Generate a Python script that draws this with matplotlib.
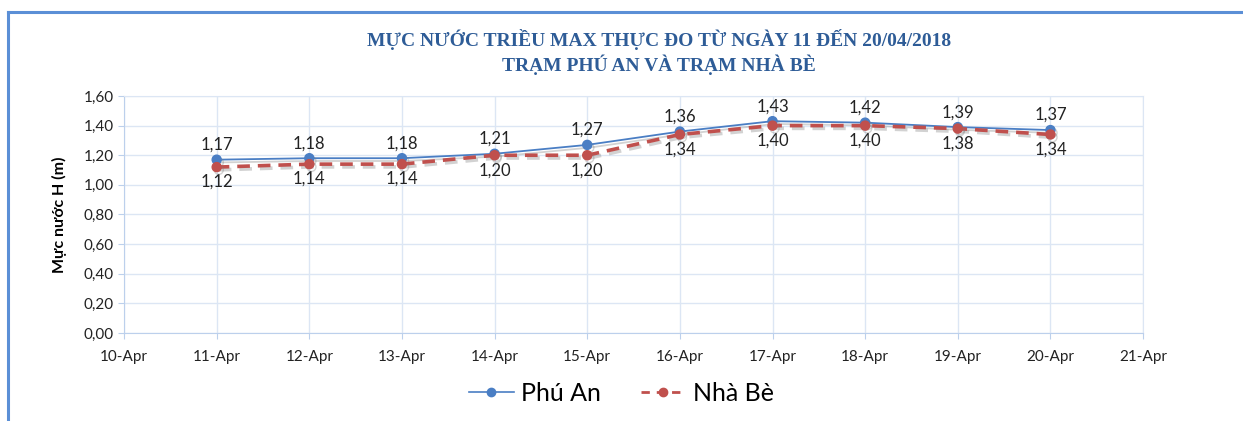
import matplotlib
matplotlib.use("Agg")
import matplotlib.pyplot as plt
import matplotlib.dates as mdates
from matplotlib.lines import Line2D
import matplotlib.patheffects as pe
import datetime as dt

dates = ["2018-04-11", "2018-04-12", "2018-04-13", "2018-04-14", "2018-04-15",
         "2018-04-16", "2018-04-17", "2018-04-18", "2018-04-19", "2018-04-20"]
phu_an = [1.17, 1.18, 1.18, 1.21, 1.27, 1.36, 1.43, 1.42, 1.39, 1.37]
nha_be = [1.12, 1.14, 1.14, 1.20, 1.20, 1.34, 1.40, 1.40, 1.38, 1.34]
series_names = ["Phú An", "Nhà Bè"]
title = "MỰC NƯỚC TRIỀU MAX THỰC ĐO TỪ NGÀY 11 ĐẾN 20/04/2018\nTRẠM PHÚ AN VÀ TRẠM NHÀ BÈ"
ylabel = "Mực nước H (m)"

x = [dt.datetime.strptime(d, "%Y-%m-%d") for d in dates]

blue = "#4A7EC4"
red = "#C0504D"
grid_c = "#DCE6F4"
font = ["Lato", "DejaVu Sans"]

fig = plt.figure(figsize=(12.43, 4.21), dpi=100)
ax = fig.add_axes([0.0998, 0.209, 0.8198, 0.563])

shadow = [pe.SimpleLineShadow(offset=(1.5, -2), shadow_color="gray", alpha=0.35), pe.Normal()]
ax.plot(x, phu_an, color=blue, lw=1.3, marker="o", ms=6.5, mfc=blue, mec=blue,
        path_effects=shadow, zorder=3)
ax.plot(x, nha_be, color=red, lw=2.6, ls=(0, (3.5, 2.2)), marker="o", ms=6.5, mfc=red, mec=red,
        path_effects=shadow, zorder=4)

def fmt(v):
    return f"{v:.2f}".replace(".", ",")

for xi, a, b in zip(x, phu_an, nha_be):
    ax.annotate(fmt(a), (xi, a), xytext=(0, 5), textcoords="offset points",
                ha="center", va="bottom", fontsize=12, family=font, color="#222222")
    ax.annotate(fmt(b), (xi, b), xytext=(0, -5), textcoords="offset points",
                ha="center", va="top", fontsize=12, family=font, color="#222222")

ax.set_xlim(dt.datetime(2018, 4, 10), dt.datetime(2018, 4, 21))
ax.set_ylim(0, 1.6)
ax.xaxis.set_major_locator(mdates.DayLocator())
ax.xaxis.set_major_formatter(mdates.DateFormatter("%d-%b"))
ax.set_yticks([i * 0.2 for i in range(9)])
ax.yaxis.set_major_formatter(matplotlib.ticker.FuncFormatter(lambda v, p: fmt(v)))
ax.grid(True, color=grid_c, lw=1)
for s in ax.spines.values():
    s.set_color(grid_c)
ax.spines["left"].set_color("#BCD0EC")
ax.spines["bottom"].set_color("#BCD0EC")
ax.tick_params(axis="both", colors="#BCD0EC", labelcolor="#222222", labelsize=11, length=4)
ax.tick_params(axis="x", pad=8)
for lab in ax.get_xticklabels() + ax.get_yticklabels():
    lab.set_family(font)
ax.set_ylabel(ylabel, fontsize=11.5, fontweight="bold", family=font, labelpad=12)

fig.text(0.530, 0.877, title, ha="center", va="center", fontsize=14, fontweight="bold",
         family=["Liberation Serif", "DejaVu Serif"], color="#2E5C97", linespacing=1.3)

handles = [Line2D([], [], color=blue, lw=1.2, marker="o", ms=6),
           Line2D([], [], color=red, lw=2.0, ls=(0, (3, 2.5)), marker="o", ms=6)]
fig.legend(handles, series_names, loc="center", bbox_to_anchor=(0.5, 0.065), ncol=2,
           frameon=False, prop={"family": font, "size": 18}, handlelength=1.8,
           columnspacing=1.6, handletextpad=0.3)

# outer border (top and left)
fig.add_artist(Line2D([0.0065, 1.0], [0.971, 0.971], transform=fig.transFigure, color="#5B8FD6", lw=2.2))
fig.add_artist(Line2D([0.0065, 0.0065], [0.0, 0.971], transform=fig.transFigure, color="#5B8FD6", lw=2.2))

fig.savefig("out.png", dpi=100)
